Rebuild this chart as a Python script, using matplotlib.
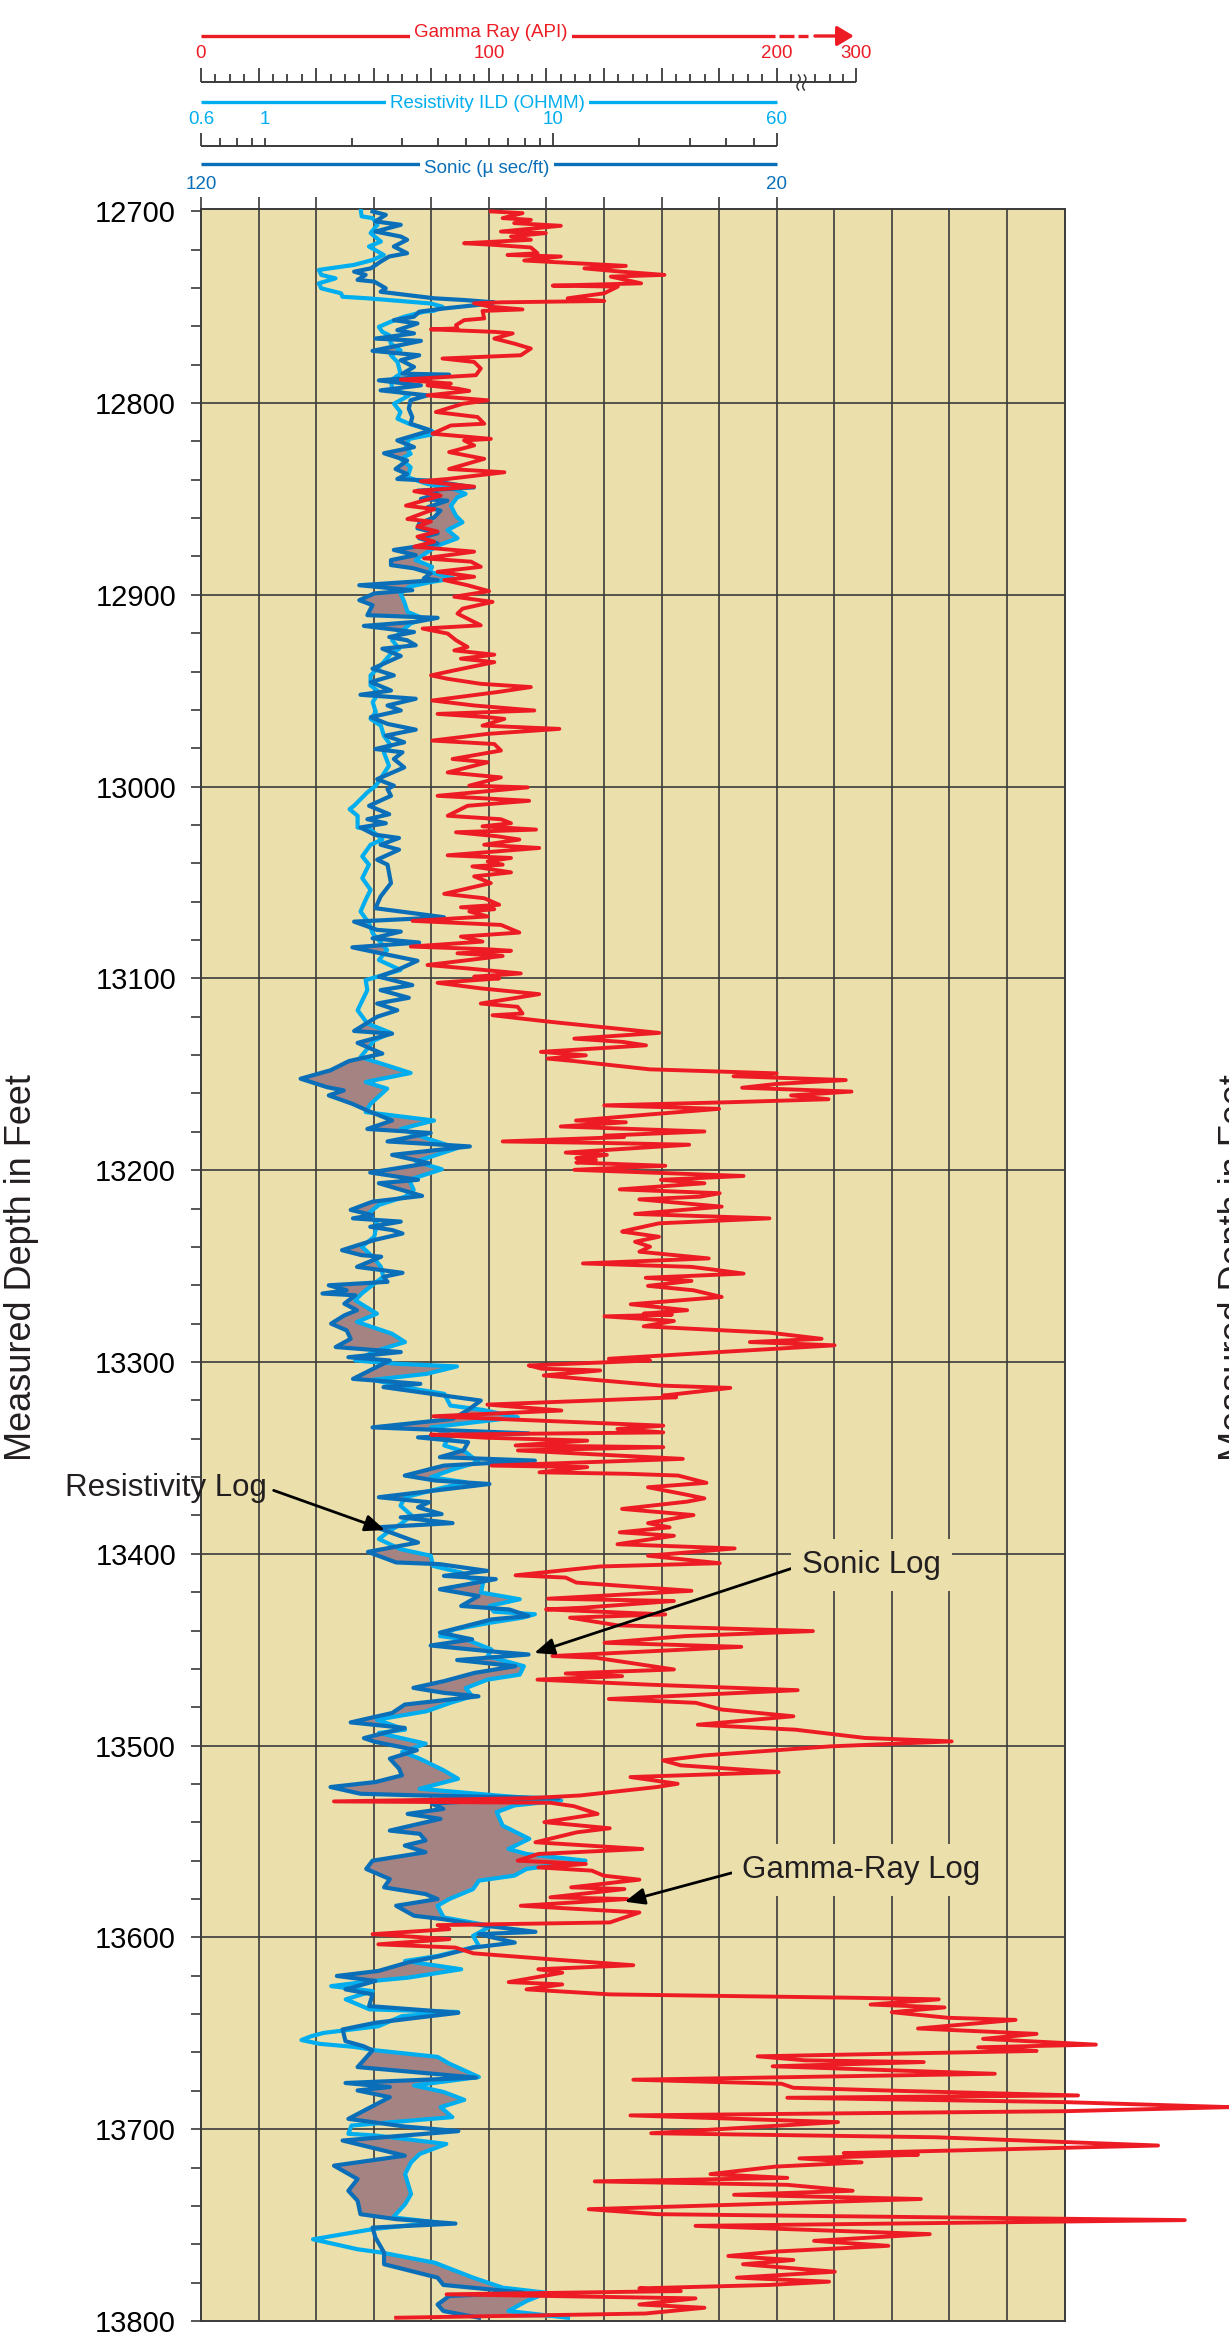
import numpy as np
import matplotlib
matplotlib.use("Agg")
import matplotlib.pyplot as plt
from matplotlib.transforms import blended_transform_factory

plt.rcParams['font.family'] = ['Liberation Sans', 'DejaVu Sans']

# ---------------- data ----------------
gr_depth = [12700.1, 12701.0, 12703.6, 12704.5, 12706.2, 12707.6, 12710.6, 12711.4, 12713.2, 12714.9,
            12716.7, 12717.5, 12718.9, 12721.9, 12722.8, 12723.6, 12725.7, 12728.5, 12729.8, 12731.5,
            12733.2, 12734.1, 12737.6, 12738.8, 12739.3, 12742.8, 12745.4, 12746.8, 12747.5, 12748.0,
            12749.8, 12751.2, 12752.0, 12755.9, 12756.8, 12759.4, 12761.1, 12761.6, 12762.9, 12763.7,
            12766.4, 12769.0, 12771.6, 12775.1, 12776.8, 12778.6, 12782.0, 12785.5, 12787.8, 12789.9,
            12790.8, 12792.5, 12793.7, 12796.0, 12798.6, 12800.4, 12804.7, 12807.3, 12810.8, 12811.7,
            12816.0, 12818.7, 12819.5, 12822.1, 12825.6, 12829.1, 12834.4, 12836.1, 12839.6, 12840.8,
            12843.6, 12846.0, 12848.3, 12853.5, 12855.3, 12860.5, 12861.8, 12864.4, 12867.0, 12869.7,
            12872.3, 12874.9, 12877.5, 12881.0, 12882.7, 12885.4, 12888.0, 12890.6, 12892.3, 12895.0,
            12898.1, 12901.0, 12903.7, 12907.2, 12909.8, 12915.9, 12917.6, 12920.2, 12923.7, 12927.2,
            12929.0, 12931.2, 12933.3, 12935.1, 12939.4, 12942.0, 12943.8, 12946.4, 12948.1, 12950.7,
            12955.1, 12957.7, 12960.3, 12962.1, 12963.8, 12964.7, 12968.2, 12969.9, 12972.5, 12976.0,
            12977.8, 12981.2, 12985.6, 12987.3, 12992.6, 12995.2, 12999.5, 13000.4, 13004.8, 13007.4,
            13010.0, 13015.2, 13017.0, 13019.1, 13020.7, 13022.4, 13023.8, 13025.9, 13027.6, 13030.3,
            13032.0, 13035.8, 13037.2, 13039.0, 13040.7, 13041.6, 13044.7, 13046.8, 13050.3, 13055.9,
            13058.2, 13061.6, 13062.9, 13063.9, 13065.1, 13067.7, 13070.0, 13072.1, 13076.1, 13078.2,
            13080.8, 13083.4, 13084.8, 13085.6, 13086.9, 13088.3, 13093.0, 13094.8, 13097.4, 13099.1,
            13100.0, 13102.3, 13105.2, 13108.2, 13113.1, 13114.8, 13118.3, 13119.2, 13122.1, 13123.2,
            13128.4, 13131.4, 13133.1, 13134.9, 13138.3, 13140.1, 13141.8, 13143.1, 13147.4, 13149.5,
            13151.0, 13153.0, 13155.0, 13157.0, 13159.0, 13161.0, 13163.0, 13164.5, 13166.2, 13168.0,
            13171.0, 13174.1, 13175.0, 13177.2, 13179.8, 13182.0, 13182.7, 13185.0, 13185.8, 13186.7,
            13190.8, 13192.0, 13193.7, 13194.6, 13196.0, 13197.7, 13199.8, 13203.0, 13205.0, 13206.8,
            13210.0, 13212.0, 13213.8, 13215.2, 13219.0, 13220.7, 13222.8, 13225.1, 13227.7, 13231.2,
            13232.0, 13234.7, 13237.3, 13239.9, 13242.5, 13246.0, 13248.6, 13250.4, 13252.1, 13253.9,
            13256.1, 13257.7, 13260.3, 13262.6, 13266.1, 13269.9, 13273.0, 13274.8, 13275.3, 13276.2,
            13278.6, 13281.4, 13284.7, 13287.9, 13289.6, 13291.3, 13294.8, 13298.3, 13299.2, 13301.8,
            13303.5, 13304.4, 13307.0, 13312.3, 13313.5, 13317.5, 13318.4, 13322.2, 13325.3, 13328.3,
            13333.2, 13334.9, 13336.7, 13337.9, 13339.5, 13341.0, 13343.5, 13344.4, 13346.1, 13350.5,
            13354.0, 13354.8, 13357.5, 13358.3, 13359.2, 13363.0, 13365.3, 13368.8, 13371.1, 13372.8,
            13376.6, 13379.8, 13384.0, 13386.2, 13388.8, 13390.6, 13395.0, 13397.2, 13401.0, 13404.9,
            13406.6, 13411.2, 13412.4, 13415.0, 13419.3, 13423.4, 13424.6, 13428.1, 13429.0, 13431.6,
            13433.3, 13437.3, 13440.3, 13442.9, 13446.4, 13448.5, 13453.3, 13454.2, 13460.3, 13462.4,
            13463.8, 13465.6, 13468.2, 13471.1, 13475.7, 13477.7, 13481.2, 13484.7, 13489.1, 13491.7,
            13496.0, 13497.8, 13500.4, 13505.1, 13507.7, 13510.3, 13513.8, 13516.4, 13519.9, 13521.6,
            13526.0, 13527.4, 13529.1, 13529.8, 13531.6, 13535.6, 13539.9, 13543.1, 13545.2, 13550.4,
            13553.9, 13556.5, 13560.0, 13561.7, 13563.5, 13565.2, 13567.8, 13569.9, 13573.9, 13574.8,
            13579.1, 13580.0, 13583.5, 13587.0, 13592.2, 13593.6, 13595.7, 13598.3, 13600.9, 13603.6,
            13605.3, 13608.3, 13611.4, 13614.5, 13616.6, 13618.4, 13623.3, 13624.5, 13627.1, 13629.7,
            13631.5, 13632.3, 13635.0, 13636.5, 13639.0, 13641.9, 13643.0, 13647.5, 13650.3, 13652.9,
            13655.9, 13657.3, 13659.2, 13662.0, 13664.1, 13665.0, 13667.2, 13671.1, 13674.2, 13676.3,
            13678.4, 13680.1, 13682.4, 13683.6, 13685.9, 13688.5, 13690.6, 13692.8, 13696.3, 13702.1,
            13704.2, 13708.5, 13712.5, 13713.3, 13715.2, 13717.3, 13719.5, 13723.4, 13725.4, 13727.2,
            13729.0, 13732.1, 13734.2, 13736.4, 13741.7, 13744.3, 13747.4, 13750.4, 13754.7, 13758.2,
            13760.8, 13763.8, 13766.1, 13768.2, 13770.4, 13774.3, 13777.4, 13779.5, 13781.2, 13783.0,
            13784.4, 13786.1, 13788.2, 13791.4, 13793.1, 13796.1, 13798.3]
gr_api = [100.7, 111.7, 104.8, 114.6, 108.8, 125.0, 104.2, 119.8, 107.7, 114.6,
          91.4, 101.3, 114.6, 116.9, 106.5, 125.0, 112.3, 147.6, 133.2, 145.9,
          161.0, 142.4, 152.9, 122.2, 144.8, 140.1, 127.4, 140.1, 104.2, 94.9,
          100.7, 111.7, 97.8, 98.4, 91.4, 88.6, 89.1, 79.9, 101.9, 108.3,
          101.9, 108.8, 114.6, 111.1, 83.9, 94.9, 97.2, 95.5, 69.4, 86.8,
          78.7, 89.1, 93.2, 78.7, 99.6, 90.9, 81.6, 96.1, 98.4, 86.8,
          80.4, 100.7, 91.4, 94.9, 86.2, 98.4, 86.2, 105.4, 85.7, 76.4,
          94.9, 74.1, 83.3, 71.2, 81.0, 71.7, 79.9, 75.2, 82.2, 75.2,
          81.0, 74.1, 94.9, 77.5, 93.8, 97.2, 82.2, 94.9, 84.5, 92.6,
          100.1, 88.0, 101.3, 90.9, 89.1, 97.2, 77.0, 85.7, 88.6, 92.6,
          88.0, 101.9, 90.3, 101.9, 88.0, 79.9, 85.7, 97.2, 114.6, 103.0,
          80.4, 94.9, 115.8, 82.2, 99.6, 105.4, 97.8, 124.5, 99.6, 80.4,
          101.9, 104.2, 87.4, 99.6, 85.7, 104.2, 93.2, 113.5, 82.2, 114.0,
          92.6, 85.7, 104.2, 107.7, 97.8, 116.4, 88.6, 103.0, 110.6, 98.4,
          117.5, 85.7, 107.7, 99.6, 104.8, 94.3, 107.7, 94.9, 100.7, 84.5,
          98.4, 103.6, 90.3, 101.9, 93.2, 99.6, 73.5, 104.2, 110.6, 90.3,
          97.8, 72.9, 99.6, 107.7, 89.1, 104.8, 78.7, 92.6, 111.1, 94.9,
          103.6, 82.2, 97.2, 117.5, 97.2, 110.0, 111.7, 101.3, 118.1, 125.0,
          159.2, 129.7, 146.5, 154.6, 118.1, 133.7, 120.4, 129.7, 155.8, 200.0,
          185.0, 224.0, 200.0, 188.0, 226.0, 205.0, 218.0, 185.0, 140.1, 180.0,
          155.2, 130.3, 147.6, 125.0, 174.9, 140.2, 147.0, 104.8, 140.2, 169.6,
          126.7, 141.0, 130.4, 137.2, 130.4, 161.3, 129.7, 188.5, 159.8, 174.9,
          145.5, 180.2, 173.4, 152.3, 180.9, 167.4, 150.8, 197.5, 159.1, 148.5,
          146.3, 159.1, 150.8, 156.0, 152.3, 176.4, 132.7, 170.4, 179.4, 188.5,
          154.5, 170.4, 155.3, 171.1, 180.9, 149.3, 168.9, 153.8, 163.6, 140.2,
          164.3, 153.8, 197.5, 215.6, 190.7, 220.1, 180.2, 141.7, 156.0, 113.9,
          118.4, 138.7, 119.1, 159.8, 183.9, 160.6, 165.1, 99.5, 125.2, 80.7,
          160.6, 144.7, 160.6, 79.9, 99.5, 134.2, 109.3, 160.6, 110.1, 167.4,
          101.0, 134.2, 117.6, 148.5, 165.8, 175.6, 155.3, 167.4, 174.9, 168.9,
          146.3, 171.1, 155.3, 162.8, 145.5, 164.3, 144.7, 185.4, 155.3, 180.2,
          138.7, 109.3, 126.7, 130.4, 170.4, 120.6, 164.3, 132.7, 119.9, 161.3,
          128.2, 144.7, 212.6, 168.1, 140.2, 187.7, 122.1, 137.2, 164.3, 126.7,
          146.3, 116.9, 155.3, 207.3, 141.7, 171.9, 180.9, 205.8, 172.6, 206.5,
          230.6, 260.8, 218.6, 174.9, 160.5, 166.7, 200.7, 149.2, 165.6, 158.4,
          131.7, 114.2, 46.2, 121.4, 129.6, 137.8, 119.3, 142.0, 130.6, 116.2,
          153.3, 117.2, 110.0, 133.7, 117.2, 135.8, 139.9, 152.3, 128.6, 147.1,
          121.4, 148.1, 111.1, 152.3, 142.0, 82.2, 86.3, 59.6, 86.3, 61.6,
          88.4, 94.6, 121.4, 150.2, 117.2, 125.5, 106.9, 125.5, 113.1, 142.0,
          228.5, 256.3, 232.6, 258.3, 240.0, 259.4, 283.0, 249.1, 290.3, 271.7,
          310.9, 270.0, 290.3, 193.4, 209.9, 251.1, 198.6, 275.8, 150.2, 201.7,
          205.8, 244.9, 304.7, 203.7, 300.6, 357.8, 300.6, 149.2, 221.3, 156.4,
          255.2, 332.5, 223.3, 249.1, 207.9, 229.5, 199.6, 177.0, 203.7, 136.8,
          203.7, 226.4, 185.2, 250.1, 134.7, 158.4, 341.8, 171.8, 253.2, 213.0,
          238.8, 199.6, 183.2, 205.8, 188.3, 220.2, 186.2, 218.2, 197.6, 152.3,
          166.7, 85.3, 171.8, 152.3, 174.9, 154.3, 67.8]

son_depth = [12700.1, 12701.9, 12705.3, 12707.1, 12710.6, 12713.2, 12714.9, 12718.4, 12721.9, 12723.6,
             12726.3, 12729.8, 12731.5, 12733.2, 12735.8, 12736.7, 12740.2, 12742.0, 12743.7, 12745.4,
             12746.3, 12747.5, 12748.9, 12750.7, 12752.4, 12755.0, 12756.8, 12758.5, 12762.0, 12763.7,
             12766.4, 12767.6, 12772.8, 12775.1, 12777.7, 12781.2, 12784.7, 12785.2, 12788.2, 12790.8,
             12793.4, 12796.0, 12798.6, 12803.0, 12807.3, 12810.8, 12814.3, 12819.5, 12823.0, 12826.2,
             12830.0, 12834.4, 12837.0, 12839.6, 12840.5, 12844.0, 12845.7, 12847.4, 12850.0, 12850.9,
             12854.4, 12856.1, 12859.6, 12862.8, 12865.3, 12867.9, 12870.5, 12873.2, 12876.6, 12879.3,
             12881.9, 12884.5, 12886.2, 12888.8, 12891.5, 12892.3, 12895.0, 12897.6, 12899.3, 12902.8,
             12905.4, 12910.6, 12912.0, 12914.1, 12916.2, 12919.4, 12922.0, 12923.7, 12926.3, 12928.1,
             12931.9, 12938.5, 12942.0, 12945.5, 12949.9, 12952.1, 12954.2, 12957.7, 12960.3, 12963.8,
             12967.3, 12970.3, 12973.4, 12976.9, 12980.4, 12982.1, 12985.6, 12990.0, 12996.1, 12999.5,
             13001.3, 13004.8, 13010.0, 13014.4, 13017.0, 13019.1, 13021.3, 13025.0, 13026.8, 13030.3,
             13032.9, 13038.1, 13040.7, 13050.3, 13057.3, 13063.4, 13068.1, 13070.4, 13074.7, 13075.6,
             13079.1, 13081.3, 13083.8, 13086.9, 13090.8, 13095.6, 13099.1, 13103.5, 13106.1, 13110.1,
             13113.1, 13116.6, 13120.0, 13127.4, 13128.8, 13133.6, 13139.2, 13143.1, 13147.9, 13152.3,
             13156.7, 13158.4, 13161.0, 13165.4, 13168.9, 13174.1, 13178.5, 13180.6, 13185.0, 13187.6,
             13192.0, 13196.3, 13201.2, 13205.0, 13206.8, 13213.4, 13216.4, 13220.7, 13223.4, 13225.1,
             13226.8, 13229.5, 13231.2, 13233.0, 13236.4, 13241.7, 13244.3, 13245.1, 13250.4, 13253.5,
             13255.6, 13258.2, 13260.0, 13262.6, 13264.3, 13265.2, 13269.6, 13273.0, 13275.7, 13280.0,
             13283.5, 13287.9, 13292.2, 13294.8, 13297.5, 13299.2, 13308.8, 13311.4, 13313.1, 13317.5,
             13320.1, 13325.0, 13329.7, 13334.1, 13337.2, 13339.3, 13341.8, 13346.1, 13349.6, 13351.4,
             13354.0, 13359.2, 13361.8, 13363.6, 13370.5, 13373.1, 13375.8, 13379.3, 13381.0, 13384.0,
             13386.2, 13394.1, 13399.0, 13404.5, 13405.4, 13408.9, 13411.5, 13413.2, 13418.5, 13422.0,
             13427.2, 13429.0, 13432.4, 13434.2, 13441.1, 13444.6, 13447.8, 13450.7, 13452.5, 13455.4,
             13458.6, 13462.1, 13466.4, 13469.9, 13472.5, 13474.3, 13478.6, 13483.0, 13487.9, 13490.8,
             13496.1, 13498.1, 13502.4, 13506.8, 13512.0, 13515.5, 13519.0, 13521.6, 13525.1, 13525.9,
             13527.4, 13528.1, 13530.3, 13533.0, 13535.6, 13538.2, 13544.3, 13546.0, 13549.5, 13552.1,
             13555.6, 13560.0, 13564.3, 13569.6, 13573.9, 13577.4, 13580.0, 13583.5, 13588.7, 13590.5,
             13593.1, 13597.1, 13598.3, 13602.7, 13605.3, 13609.7, 13613.1, 13617.5, 13620.1, 13622.7,
             13627.1, 13629.7, 13635.8, 13639.3, 13644.5, 13648.0, 13654.1, 13656.7, 13658.9, 13667.6,
             13673.1, 13675.9, 13678.0, 13679.8, 13683.3, 13694.6, 13698.6, 13701.0, 13705.9, 13713.8,
             13719.0, 13726.0, 13732.1, 13737.3, 13744.3, 13746.9, 13749.2, 13751.3, 13756.5, 13764.3,
             13770.4, 13777.4, 13781.2, 13785.2, 13787.0, 13791.4, 13794.8, 13798.3]
son_dt = [90.2, 87.9, 89.7, 85.3, 89.7, 85.3, 84.2, 86.5, 84.2, 87.3,
          88.8, 90.5, 93.4, 91.4, 92.8, 89.9, 87.9, 88.8, 84.2, 79.5,
          74.3, 69.1, 72.0, 77.8, 82.1, 83.0, 86.5, 82.4, 85.9, 83.0,
          89.7, 81.8, 90.2, 82.1, 85.3, 83.0, 85.0, 76.9, 89.1, 81.8,
          88.8, 80.7, 83.6, 83.9, 83.3, 83.6, 80.1, 85.9, 83.0, 88.2,
          84.2, 86.2, 84.2, 85.9, 80.1, 72.6, 82.4, 78.9, 81.8, 77.2,
          80.7, 78.4, 79.5, 82.1, 82.4, 78.9, 82.1, 78.9, 86.5, 82.7,
          87.0, 87.0, 83.0, 80.1, 81.3, 78.9, 92.5, 83.3, 89.9, 92.5,
          90.2, 91.1, 78.9, 82.7, 91.7, 83.0, 87.3, 84.2, 82.7, 88.5,
          85.3, 90.2, 86.5, 90.5, 87.0, 92.3, 82.7, 87.6, 85.3, 90.5,
          87.6, 82.7, 87.9, 84.7, 89.7, 85.0, 86.5, 84.7, 89.4, 86.5,
          87.6, 87.0, 90.8, 87.3, 91.1, 87.9, 92.3, 89.9, 85.6, 88.8,
          85.6, 89.4, 87.6, 87.0, 88.8, 89.7, 77.8, 93.4, 89.4, 85.3,
          90.2, 82.1, 93.7, 88.8, 82.4, 85.9, 89.1, 83.3, 88.8, 83.9,
          89.4, 85.9, 89.4, 93.4, 86.8, 92.8, 88.5, 94.3, 97.5, 102.7,
          98.1, 95.2, 97.8, 93.7, 91.1, 86.8, 91.1, 80.1, 87.6, 73.3,
          86.8, 80.4, 90.6, 82.3, 89.1, 81.6, 90.2, 94.0, 90.2, 93.6,
          85.3, 90.6, 86.8, 85.0, 89.9, 95.5, 92.1, 88.7, 92.9, 85.0,
          88.3, 87.6, 97.8, 94.7, 98.9, 93.2, 95.1, 92.9, 95.1, 97.4,
          94.7, 94.0, 96.6, 85.3, 94.4, 87.2, 93.6, 81.9, 88.3, 77.8,
          71.4, 73.6, 76.3, 90.2, 63.1, 82.3, 73.6, 74.4, 78.5, 62.0,
          77.8, 84.6, 79.3, 69.9, 89.1, 80.4, 82.3, 78.2, 85.3, 76.3,
          89.5, 82.3, 91.0, 86.1, 78.5, 70.3, 77.8, 68.8, 78.5, 71.8,
          74.8, 66.5, 63.1, 69.5, 78.5, 72.9, 80.1, 70.3, 63.1, 75.5,
          65.4, 72.5, 77.8, 83.1, 77.8, 71.8, 84.6, 86.8, 94.0, 84.6,
          91.7, 89.7, 82.5, 87.2, 85.6, 85.1, 89.7, 97.5, 92.3, 83.0,
          57.8, 68.6, 79.9, 77.9, 84.1, 78.4, 87.2, 82.0, 81.0, 84.6,
          81.0, 90.2, 91.3, 87.2, 88.2, 81.0, 78.9, 86.1, 83.0, 77.9,
          72.7, 61.9, 71.7, 65.5, 72.7, 78.4, 84.1, 89.2, 96.4, 89.7,
          94.9, 90.2, 90.8, 75.3, 89.7, 95.4, 94.9, 91.8, 90.2, 92.8,
          72.2, 94.9, 87.2, 92.8, 87.2, 94.4, 84.6, 75.3, 95.4, 84.6,
          96.9, 92.8, 94.4, 92.8, 92.3, 86.1, 75.8, 90.2, 89.7, 88.2,
          88.2, 78.9, 77.9, 64.0, 76.9, 78.9, 77.9, 71.7]

res_depth = [12698.4, 12702.7, 12703.6, 12707.1, 12711.4, 12715.8, 12718.4, 12722.8, 12725.4, 12728.0,
             12730.6, 12733.2, 12735.0, 12737.6, 12740.2, 12742.8, 12744.6, 12745.4, 12748.1, 12749.8,
             12751.9, 12752.4, 12755.0, 12757.6, 12760.3, 12762.9, 12764.6, 12769.0, 12772.5, 12775.1,
             12778.6, 12784.7, 12788.2, 12792.5, 12796.0, 12800.4, 12804.7, 12808.2, 12810.8, 12814.3,
             12816.0, 12818.7, 12823.0, 12826.5, 12829.1, 12833.5, 12838.7, 12842.2, 12844.8, 12847.4,
             12849.2, 12853.5, 12858.8, 12862.2, 12866.2, 12870.5, 12874.0, 12876.6, 12881.9, 12885.4,
             12888.0, 12891.5, 12893.2, 12895.8, 12899.3, 12903.7, 12908.9, 12912.4, 12915.0, 12919.4,
             12923.7, 12928.1, 12930.7, 12936.8, 12942.0, 12947.2, 12950.7, 12956.0, 12961.2, 12964.7,
             12968.2, 12973.4, 12978.6, 12982.1, 12989.1, 12994.3, 12999.5, 13003.0, 13010.0, 13011.8,
             13015.2, 13021.3, 13022.4, 13027.6, 13030.3, 13036.4, 13040.7, 13047.7, 13053.8, 13059.0,
             13065.1, 13071.2, 13076.5, 13085.2, 13090.4, 13095.6, 13100.9, 13106.1, 13116.6, 13123.5,
             13128.4, 13132.3, 13141.0, 13149.3, 13154.0, 13157.5, 13165.4, 13169.7, 13174.1, 13178.5,
             13184.1, 13188.5, 13195.5, 13199.5, 13205.0, 13210.3, 13213.8, 13218.1, 13222.5, 13227.7,
             13234.7, 13239.9, 13245.1, 13250.4, 13255.6, 13259.1, 13264.3, 13267.8, 13274.8, 13279.1,
             13285.2, 13289.6, 13294.0, 13299.2, 13300.9, 13302.3, 13306.2, 13309.3, 13314.0, 13316.6,
             13322.7, 13325.0, 13328.8, 13330.6, 13334.1, 13337.9, 13343.5, 13347.0, 13352.2, 13355.7,
             13360.1, 13362.7, 13367.1, 13370.5, 13374.9, 13380.1, 13384.5, 13388.8, 13392.3, 13397.6,
             13401.0, 13406.3, 13409.8, 13412.4, 13415.0, 13420.2, 13423.7, 13427.2, 13430.2, 13431.5,
             13433.3, 13436.0, 13439.4, 13442.9, 13444.6, 13449.9, 13453.4, 13458.6, 13463.0, 13465.6,
             13470.0, 13474.3, 13477.7, 13482.1, 13486.5, 13491.7, 13493.4, 13499.0, 13503.3, 13506.8,
             13512.9, 13517.3, 13522.5, 13526.0, 13528.6, 13531.2, 13534.7, 13541.7, 13548.6, 13553.9,
             13556.5, 13560.0, 13564.3, 13567.8, 13570.4, 13574.8, 13580.0, 13583.5, 13589.6, 13594.0,
             13599.2, 13604.4, 13609.7, 13612.3, 13616.6, 13621.0, 13622.7, 13625.4, 13628.0, 13632.3,
             13637.5, 13638.9, 13641.0, 13646.3, 13649.8, 13651.5, 13653.5, 13655.5, 13657.1, 13658.9,
             13662.3, 13665.8, 13672.8, 13677.2, 13680.6, 13684.7, 13688.5, 13693.7, 13698.1, 13702.4,
             13703.3, 13707.7, 13712.9, 13717.3, 13723.4, 13733.8, 13739.1, 13746.0, 13748.6, 13752.1,
             13757.4, 13762.6, 13764.3, 13769.6, 13777.4, 13782.6, 13785.3, 13789.6, 13794.8, 13798.3]
res_ohmm = [2.15, 2.17, 2.37, 2.46, 2.33, 2.53, 2.30, 2.59, 2.37, 2.04,
            1.54, 1.57, 1.76, 1.54, 1.57, 1.84, 1.86, 2.27, 3.77, 4.14,
            3.87, 3.57, 3.05, 2.74, 2.49, 2.56, 2.70, 2.74, 2.96, 2.74,
            2.89, 2.96, 2.74, 2.77, 3.17, 2.81, 2.96, 2.89, 3.17, 3.77,
            3.92, 3.17, 3.09, 3.21, 2.96, 3.21, 3.13, 3.67, 4.54, 4.98,
            4.66, 4.43, 4.61, 4.86, 4.31, 4.67, 4.04, 3.77, 3.34, 3.81,
            3.73, 4.54, 3.81, 3.17, 2.96, 3.05, 3.13, 3.57, 3.21, 2.96,
            2.77, 2.93, 2.74, 2.53, 2.33, 2.33, 2.49, 2.37, 2.43, 2.33,
            2.53, 2.59, 2.74, 2.59, 2.70, 2.56, 2.43, 2.27, 2.04, 1.97,
            2.10, 2.10, 2.33, 2.56, 2.33, 2.18, 2.30, 2.18, 2.33, 2.24,
            2.15, 2.30, 2.37, 2.66, 2.49, 2.96, 2.24, 2.27, 2.10, 2.27,
            2.74, 2.40, 2.15, 3.21, 2.24, 2.66, 2.33, 2.24, 3.87, 2.96,
            3.77, 4.65, 3.35, 4.12, 3.17, 3.29, 3.07, 2.49, 2.29, 2.45,
            2.40, 2.17, 2.37, 2.53, 2.58, 2.40, 2.17, 2.06, 2.45, 2.09,
            2.76, 3.07, 2.45, 2.06, 2.86, 4.65, 3.64, 2.37, 3.29, 4.20,
            4.41, 5.73, 7.56, 5.94, 3.77, 4.41, 4.20, 4.99, 5.52, 4.56,
            3.77, 4.99, 3.77, 3.07, 2.96, 3.24, 2.96, 2.67, 2.49, 2.96,
            3.77, 3.84, 4.81, 5.08, 5.73, 5.64, 7.68, 6.02, 6.25, 8.67,
            7.84, 6.02, 4.56, 4.06, 4.99, 6.13, 5.94, 7.94, 7.68, 5.94,
            4.99, 5.25, 4.41, 3.64, 2.45, 3.07, 2.49, 3.62, 3.00, 3.45,
            4.18, 4.69, 3.45, 6.39, 10.7, 7.36, 6.39, 6.70, 8.29, 7.02,
            8.11, 13.0, 8.11, 7.36, 5.54, 5.29, 4.37, 3.98, 4.18, 6.11,
            5.29, 5.54, 3.98, 3.07, 4.81, 3.14, 2.37, 1.70, 2.37, 1.91,
            2.31, 4.69, 3.00, 2.48, 1.60, 1.45, 1.34, 1.55, 2.05, 2.43,
            3.98, 4.37, 5.54, 3.30, 4.18, 4.93, 4.08, 4.48, 2.00, 1.95,
            2.43, 4.27, 3.45, 3.22, 3.07, 3.22, 3.07, 2.79, 3.98, 2.37,
            1.47, 2.10, 2.54, 3.89, 5.29, 6.70, 9.55, 8.11, 7.02, 11.3]

depth_ticks = [12700, 12800, 12900, 13000, 13100, 13200, 13300, 13400, 13500, 13600, 13700, 13800]
gr_scale_labels = ['0', '100', '200', '300']
res_scale_labels = [0.6, 1, 10, 60]
res_scale_ticks = [0.6, 0.7, 0.8, 0.9, 1, 2, 3, 4, 5, 6, 7, 8, 9, 10, 20, 30, 40, 50, 60]
sonic_scale_labels = ['120', '20']

# ---------------- style ----------------
W, H = 1229, 2333
RED = '#ED1C24'
LBLUE = '#00AEEF'
DBLUE = '#0A6FB8'
BG = '#EBE0AB'
FILL = '#A58383'
GRID = '#3A3A3A'
TXT = '#231F20'

fig = plt.figure(figsize=(W / 100, H / 100), dpi=100)
AX_L, AX_R, AX_T, AX_B = 201, 1064.5, 209.3, 2321
ax = fig.add_axes([AX_L / W, 1 - AX_B / H, (AX_R - AX_L) / W, (AX_B - AX_T) / H])
ax.set_facecolor(BG)
ax.set_xlim(0, 300)
ax.set_ylim(13800, 12699)


def sonic_to_x(dt):
    return (120.0 - np.asarray(dt, float)) * 2.0


def res_to_x(r):
    return 100.0 * np.log10(np.asarray(r, float) / 0.6)


# grid
ax.vlines(np.arange(20, 300, 20), 12699, 13800, colors=GRID, lw=1.2, zorder=1)
ax.hlines(np.arange(12800, 13800, 100), 0, 300, colors=GRID, lw=1.2, zorder=1)

son_x = sonic_to_x(son_dt)
res_x = res_to_x(res_ohmm)

dgrid = np.union1d(son_depth, res_depth)
sx = np.interp(dgrid, son_depth, son_x)
rx = np.interp(dgrid, res_depth, res_x)
ax.fill_betweenx(dgrid, sx, rx, where=rx > sx, interpolate=True, color=FILL, lw=0, zorder=2)

ax.plot(res_x, res_depth, color=LBLUE, lw=3.0, zorder=3)
ax.plot(son_x, son_depth, color=DBLUE, lw=3.0, zorder=3.5)
ax.plot(gr_api, gr_depth, color=RED, lw=2.8, zorder=4, clip_on=False)

# axes ticks
ax.set_yticks(depth_ticks)
ax.set_yticklabels([str(d) for d in depth_ticks])
ax.set_yticks(np.arange(12700, 13800, 20), minor=True)
ax.tick_params(axis='y', which='both', direction='out', length=7, width=1.2, color=GRID,
               pad=11, labelsize=21, labelcolor='black', left=True, right=False)
ax.xaxis.tick_top()
ax.set_xticks(np.arange(0, 201, 20))
ax.set_xticklabels([])
ax.tick_params(axis='x', which='both', direction='out', length=8.6, width=1.2, color=GRID,
               top=True, bottom=False)
for s in ax.spines.values():
    s.set_color(GRID)
    s.set_linewidth(1.4)

# ---------------- header scales ----------------
tr = blended_transform_factory(ax.transData, fig.transFigure)


def fy(px):
    return 1 - px / H


def hline(x0, x1, ypx, **kw):
    ax.plot([x0, x1], [fy(ypx), fy(ypx)], transform=tr, clip_on=False, solid_capstyle='butt', **kw)


def vtick(x, y0, y1, **kw):
    ax.plot([x, x], [fy(y0), fy(y1)], transform=tr, clip_on=False, solid_capstyle='butt', **kw)


HFS = 13.5
LFS = 13.5
# Gamma ray
hline(0, 199.4, 36, color=RED, lw=2.4)
ax.text(100.7, fy(37), 'Gamma Ray (API)', transform=tr, ha='center', va='baseline', color=RED,
        fontsize=HFS, bbox=dict(boxstyle='square,pad=0.22', fc='white', ec='none'))
hline(200.8, 205.9, 36, color=RED, lw=2.4)
hline(207.4, 210.9, 36, color=RED, lw=2.4)
ax.annotate('', xy=(226.8, fy(36)), xytext=(213.3, fy(36)), xycoords=tr, textcoords=tr,
            arrowprops=dict(arrowstyle='-|>,head_length=0.5,head_width=0.3', color=RED, lw=2.4,
                            shrinkA=0, shrinkB=0, mutation_scale=20), annotation_clip=False)
for lab, u in zip(gr_scale_labels, [0, 100, 200, 227.5]):
    ax.text(u, fy(53), lab, transform=tr, ha='center', va='center', color=RED, fontsize=LFS)
hline(0, 227.5, 81.7, color=GRID, lw=1.4)
for u in range(0, 201, 5):
    vtick(u, 68.3 if u % 20 == 0 else 74.0, 81.7, color=GRID, lw=1.3)
for u in [205.0, 213.3, 218.4, 223.0]:
    vtick(u, 74.0, 81.7, color=GRID, lw=1.3)
vtick(227.5, 68.3, 81.7, color=GRID, lw=1.3)
tt = np.linspace(0, 1, 25)
for u0 in (207.6, 209.6):
    ax.plot(u0 + 0.55 * np.sin(2 * np.pi * tt), fy(75 + 15 * tt), transform=tr, clip_on=False,
            color=GRID, lw=1.1)

# Resistivity
hline(0, 200, 101.7, color=LBLUE, lw=2.4)
ax.text(99.4, fy(108.3), 'Resistivity ILD (OHMM)', transform=tr, ha='center', va='baseline',
        color=LBLUE, fontsize=HFS, bbox=dict(boxstyle='square,pad=0.22', fc='white', ec='none'))
for v in res_scale_labels:
    ax.text(float(res_to_x(v)), fy(119.5), f'{v:g}', transform=tr, ha='center', va='center',
            color=LBLUE, fontsize=LFS)
hline(0, 200, 145.7, color=GRID, lw=1.4)
for v in res_scale_ticks:
    tall = v in (0.6, 10, 60)
    vtick(float(res_to_x(v)), 132.5 if tall else 137.7, 145.7, color=GRID, lw=1.3)

# Sonic
hline(0, 200, 164.3, color=DBLUE, lw=2.4)
ax.text(99.4, fy(172.8), 'Sonic (\u00b5 sec/ft)', transform=tr, ha='center', va='baseline',
        color=DBLUE, fontsize=HFS, bbox=dict(boxstyle='square,pad=0.22', fc='white', ec='none'))
for lab, u in zip(sonic_scale_labels, [0, 200]):
    ax.text(u, fy(184.3), lab, transform=tr, ha='center', va='center', color=DBLUE, fontsize=LFS)

# ---------------- labels and annotations ----------------
fig.text(22 / W, fy(1268), 'Measured Depth in Feet', rotation=90, ha='center', va='center',
         fontsize=26, color=TXT)
fig.text(1218 / W, fy(1268), 'Measured Depth in Feet', rotation=90, ha='left', va='center',
         fontsize=26, color=TXT)

arrow = dict(arrowstyle='-|>,head_length=0.6,head_width=0.25', color='black', lw=2.0,
             shrinkA=3, shrinkB=0, mutation_scale=20)
ax.annotate('Resistivity Log', xy=(63.9, 13387.6), xytext=(166, H - 1488),
            textcoords='figure pixels', ha='center', va='center', fontsize=22.5, color=TXT,
            arrowprops=dict(arrow, relpos=(1, 0.5)), zorder=6)
ax.annotate('Sonic Log', xy=(115.8, 13451.7), xytext=(871.5, H - 1565),
            textcoords='figure pixels', ha='center', va='center', fontsize=22.5, color=TXT,
            bbox=dict(boxstyle='square,pad=0.35', fc=BG, ec='none'),
            arrowprops=dict(arrow, relpos=(0, 0.5), shrinkA=0), zorder=6)
ax.annotate('Gamma-Ray Log', xy=(147.2, 13581.4), xytext=(861.6, H - 1870),
            textcoords='figure pixels', ha='center', va='center', fontsize=22.5, color=TXT,
            bbox=dict(boxstyle='square,pad=0.35', fc=BG, ec='none'),
            arrowprops=dict(arrow, relpos=(0, 0.5), shrinkA=0), zorder=6)

fig.savefig('out.png', dpi=100)
